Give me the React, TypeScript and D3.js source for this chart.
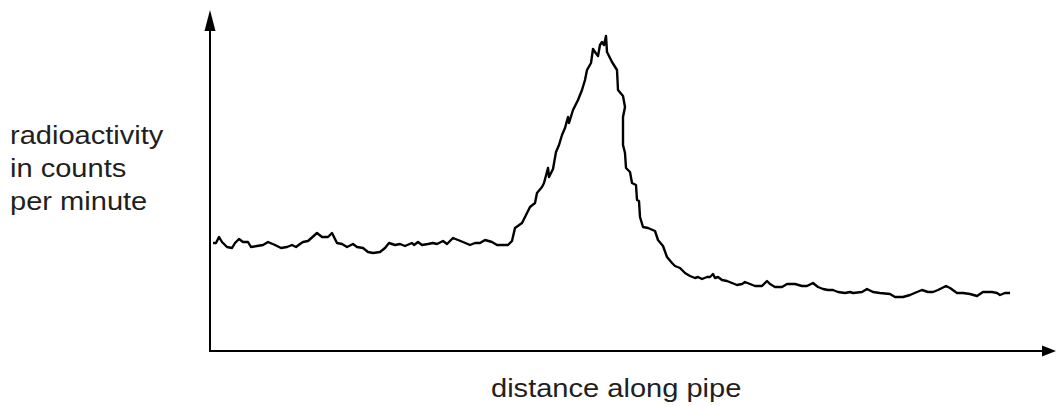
import React, { useEffect, useRef } from 'react'
import * as d3 from 'd3'

// readings (arbitrary units: distance along pipe, counts per minute)
const distance = [
  3, 6, 9, 12, 17, 22, 25, 29, 33, 38, 41, 47, 53, 58, 65, 71, 77, 82, 86, 90,
  93, 98, 107, 112, 118, 122, 127, 132, 137, 143, 147, 153, 158, 163, 170, 175,
  179, 185, 190, 195, 202, 204, 208, 212, 218, 223, 227, 233, 237, 243, 248, 253,
  260, 265, 270, 275, 282, 287, 298, 302, 305, 312, 315, 320, 325, 327, 332, 334,
  338, 339, 343, 346, 349, 352, 355, 358, 359, 363, 368, 372, 375, 377, 381, 383,
  385, 388, 390, 392, 394, 396, 397, 402, 407, 408, 413, 415, 413, 413, 415, 416,
  420, 422, 426, 427, 429, 430, 433, 438, 445, 448, 453, 457, 462, 465, 470, 475,
  480, 485, 488, 492, 497, 500, 503, 505, 508, 512, 517, 522, 527, 532, 535, 540,
  545, 552, 557, 560, 565, 572, 577, 585, 592, 597, 603, 608, 613, 618, 623, 628,
  635, 640, 643, 652, 657, 663, 670, 680, 685, 693, 700, 707, 712, 718, 723, 728,
  736, 740, 747, 753, 760, 767, 773, 782, 787, 790, 795, 800,
]
const counts = [
  108, 108, 114, 109, 104, 103, 108, 112, 109, 109, 104, 105, 106, 109, 106, 103,
  104, 106, 104, 107, 109, 110, 118, 114, 114, 118, 108, 107, 104, 107, 104, 103,
  99, 98, 99, 103, 108, 106, 107, 105, 108, 106, 109, 106, 107, 108, 107, 110,
  107, 113, 111, 109, 106, 108, 108, 111, 109, 106, 106, 110, 123, 128, 134, 144,
  148, 158, 164, 168, 183, 174, 182, 199, 206, 216, 223, 234, 228, 241, 251, 261,
  271, 281, 288, 302, 299, 295, 306, 309, 306, 315, 299, 289, 281, 261, 255, 244,
  234, 206, 198, 183, 179, 168, 166, 151, 150, 134, 124, 123, 120, 111, 105, 94,
  88, 85, 83, 78, 75, 73, 74, 72, 74, 74, 77, 73, 74, 71, 70, 68, 66, 67, 69, 67,
  65, 65, 70, 67, 64, 64, 67, 67, 65, 65, 68, 64, 62, 61, 61, 59, 58, 59, 58, 59,
  62, 59, 58, 57, 54, 54, 56, 59, 61, 59, 59, 61, 65, 63, 58, 58, 57, 55, 59, 59,
  58, 56, 58, 58,
]
const yLabelLines = ['radioactivity', 'in counts', 'per minute']
const xLabel = 'distance along pipe'

const W = 1058
const H = 406

const App = () => {
  const svgRef = useRef<SVGSVGElement>(null)

  useEffect(() => {
    const svg = d3.select(svgRef.current)
    svg.selectAll('*').remove()

    const xScale = d3.scaleLinear().domain([0, 846]).range([210, 1056])
    const yScale = d3.scaleLinear().domain([0, 341]).range([351, 10])
    const x0 = xScale(0)
    const y0 = yScale(0)

    // axes with arrow heads
    svg
      .append('line')
      .attr('x1', x0)
      .attr('y1', y0 + 1)
      .attr('x2', x0)
      .attr('y2', yScale(320))
      .attr('stroke', '#000')
      .attr('stroke-width', 2)
    svg
      .append('line')
      .attr('x1', x0 - 1)
      .attr('y1', y0)
      .attr('x2', xScale(833))
      .attr('stroke', '#000')
      .attr('y2', y0)
      .attr('stroke-width', 2)
    svg
      .append('path')
      .attr('d', `M${x0},${yScale(341)} L${x0 - 5.5},${yScale(320)} L${x0 + 5.5},${yScale(320)} Z`)
      .attr('fill', '#000')
    svg
      .append('path')
      .attr('d', `M${xScale(846)},${y0} L${xScale(832)},${y0 - 5.5} L${xScale(832)},${y0 + 5.5} Z`)
      .attr('fill', '#000')

    // the trace
    const data = distance.map((d, i) => ({ d, c: counts[i] }))
    const line = d3
      .line<{ d: number; c: number }>()
      .x((p) => xScale(p.d))
      .y((p) => yScale(p.c))
    svg
      .append('path')
      .datum(data)
      .attr('d', line)
      .attr('fill', 'none')
      .attr('stroke', '#000')
      .attr('stroke-width', 2.4)
      .attr('stroke-linejoin', 'round')

    // labels (the source type is a bit wide, hence the x stretch)
    const font = "'Liberation Sans', Arial, sans-serif"
    yLabelLines.forEach((t, i) => {
      svg
        .append('text')
        .attr('transform', `translate(10, ${143.5 + i * 33}) scale(1.14, 1)`)
        .attr('font-family', font)
        .attr('font-size', 25.5)
        .attr('fill', '#231f20')
        .text(t)
    })
    svg
      .append('text')
      .attr('transform', `translate(491, 397) scale(1.14, 1)`)
      .attr('font-family', font)
      .attr('font-size', 25.5)
      .attr('fill', '#231f20')
      .text(xLabel)
  }, [])

  return (
    <svg
      ref={svgRef}
      width={W}
      height={H}
      style={{ position: 'absolute', left: 0, top: 0, background: '#fff' }}
    ></svg>
  )
}

export default App
